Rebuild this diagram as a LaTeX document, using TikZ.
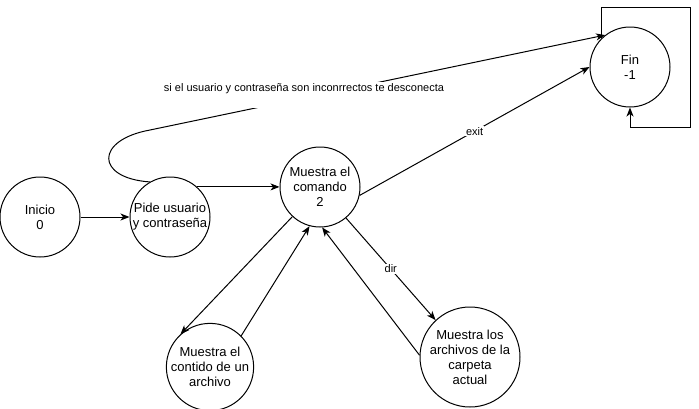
\documentclass[tikz,border=0pt]{standalone}
\usepackage{fontspec}
\setmainfont{Liberation Sans}
\usetikzlibrary{arrows.meta}
\begin{document}
\begin{tikzpicture}[x=1pt,y=-1pt,
  state/.style={circle,draw,line width=1pt,minimum size=80pt,inner sep=0pt,align=center,font=\fontsize{13}{15}\selectfont},
  bigstate/.style={state,minimum size=100pt},
  conn/.style={line width=1pt,-{Stealth[length=9pt,width=7pt,inset=2.5pt]}},
  elabel/.style={fill=white,inner sep=1pt,font=\fontsize{11}{13}\selectfont}]
\useasboundingbox (0,0) rectangle (699,408);
\node[state] (inicio) at (40,217) {Inicio\\0};
\node[state] (pide) at (170,217) {Pide usuario\\y contraseña};
\node[state] (cmd) at (320,187) {Muestra el\\comando\\2};
\node[state] (fin) at (630,67) {Fin\\-1};
\node[state] (cont) at (210,367) {Muestra el\\contido de un\\archivo};
\node[bigstate] (arch) at (470,357) {Muestra los\\archivos de la\\carpeta\\actual};
\coordinate (ltr) at (690,7);
\coordinate (lbr) at (690,127);
\coordinate (c1) at (95,178);
\coordinate (c2) at (95,140);
\coordinate (bend) at (150,130);
\draw[conn] (inicio.east) -- (pide.west);
\draw[conn] (pide.48) -- (pide.48 -| cmd.west);
\draw[conn] (cmd.-12) -- node[elabel,pos=0.5] {exit} (fin.west);
\draw[conn] (cmd.-133) -- (cont.132);
\draw[conn] (cont.45) -- (cmd.-105);
\draw[conn] (cmd.-50) -- node[elabel,pos=0.5] {dir} (arch.133);
\draw[conn] (arch.178) -- (cmd.-87);
\draw[conn] (fin.134) |- (ltr) -- (lbr) -| (fin.south);
\draw[conn] (pide.120) .. controls (c1) and (c2) .. (bend) -- (fin.128);
\fill[white] (163,82) rectangle (445,108);
\node[font=\fontsize{11}{13}\selectfont,inner sep=0pt] (lbl) at (304,89) {si el usuario y contraseña son inconrrectos te desconecta};
\end{tikzpicture}
\end{document}
